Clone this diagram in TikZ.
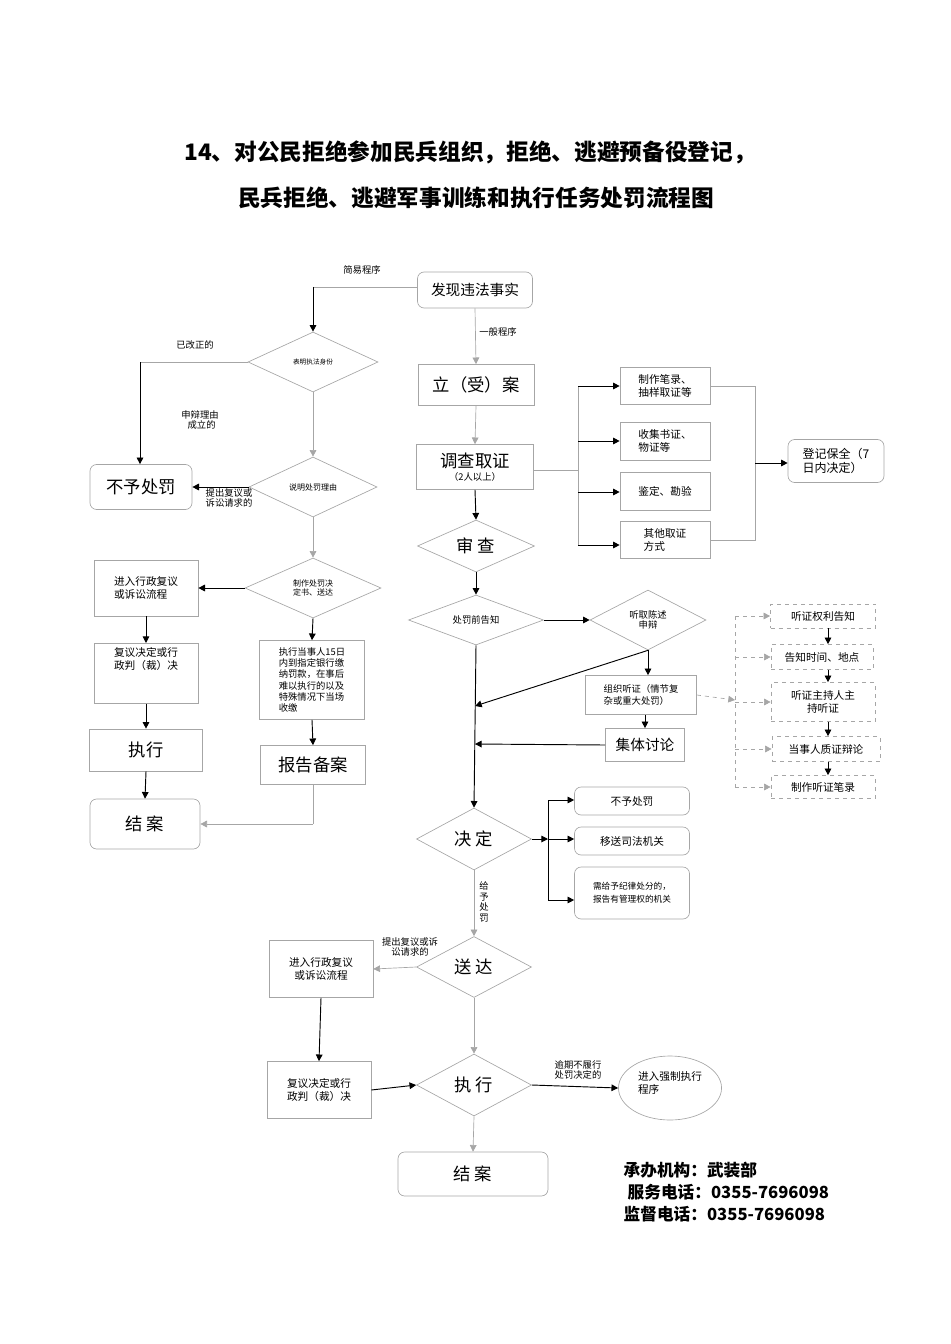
\documentclass[tikz,border=0pt]{standalone}
\usepackage{fontspec}
\setmainfont{Noto Sans CJK SC}
\usetikzlibrary{shapes.geometric,arrows.meta}
\begin{document}
\begin{tikzpicture}[x=0.75pt,y=-0.75pt,
  bx/.style={draw=gray!70,line width=0.5pt,inner sep=1pt,align=center},
  rbx/.style={bx,rounded corners=5pt},
  dbx/.style={bx,dashed},
  dia/.style={draw=gray!70,line width=0.5pt,diamond,aspect=2,inner sep=0pt,align=center},
  ar/.style={-{Triangle[length=5pt,width=5pt]},line width=0.7pt},
  gl/.style={draw=gray!70,line width=0.5pt},
  gar/.style={gl,-{Triangle[length=5pt,width=5pt]}},
  lb/.style={font=\fontsize{7}{8}\selectfont,align=left},
  sm/.style={font=\fontsize{8}{9.5}\selectfont},
  big/.style={font=\fontsize{13}{15}\selectfont},
  mid/.style={font=\fontsize{11}{13}\selectfont}]
\useasboundingbox (0,0) rectangle (950,1344);
\node[font=\fontsize{17}{20}\bfseries\selectfont] (t1) at (470,152) {14、对公民拒绝参加民兵组织，拒绝、逃避预备役登记，};
\node[font=\fontsize{17}{20}\bfseries\selectfont] (t2) at (476,198) {民兵拒绝、逃避军事训练和执行任务处罚流程图};
% left column
\node[rbx,mid,minimum width={115*0.75pt},minimum height={36*0.75pt}] (fx) at (475,290) {发现违法事实};
\node[dia,minimum width={130*0.75pt},minimum height={60*0.75pt},font=\fontsize{5}{6}\selectfont] (d1) at (313,362) {表明执法身份};
\node[dia,minimum width={128*0.75pt},minimum height={60*0.75pt},font=\fontsize{6}{7}\selectfont] (d2) at (313,487) {说明处罚理由};
\node[dia,minimum width={136*0.75pt},minimum height={60*0.75pt},font=\fontsize{6}{7}\selectfont] (d3) at (313,588) {制作处罚决\\定书、送达};
\node[rbx,big,minimum width={102*0.75pt},minimum height={45*0.75pt}] (bz) at (141,487) {不予处罚};
\node[bx,sm,minimum width={104*0.75pt},minimum height={56*0.75pt},align=left] (fy1) at (146,588) {进入行政复议\\或诉讼流程};
\node[bx,sm,minimum width={104*0.75pt},minimum height={60*0.75pt},align=left,anchor=north,text depth=22pt] (fy2) at (146,643) {复议决定或行\\政判（裁）决};
\node[bx,big,minimum width={113*0.75pt},minimum height={42*0.75pt}] (zx1) at (146,750) {执行};
\node[rbx,big,minimum width={110*0.75pt},minimum height={50*0.75pt}] (ja1) at (145,824) {结 案};
\node[bx,font=\fontsize{7}{8.5}\selectfont,minimum width={105*0.75pt},minimum height={79*0.75pt},align=left] (zxd) at (312,680) {执行当事人15日\\内到指定银行缴\\纳罚款，在事后\\难以执行的以及\\特殊情况下当场\\收缴};
\node[bx,big,minimum width={105*0.75pt},minimum height={39*0.75pt}] (bg) at (313,765) {报告备案};
\coordinate (c1) at (313,287);
\coordinate (c2) at (140,362);
\coordinate (c3) at (313,824);
\draw[gl] (fx.west|-c1) -- (c1);
\draw[ar] (c1) -- (d1.north);
\draw[gl] (d1.west) -- (c2);
\draw[ar,line width=0.5pt] (c2) -- (c2|-bz.north);
\node[lb] (l1) at (362,270) {简易程序};
\node[lb] (l2) at (195,345) {已改正的};
\node[lb] (l3) at (200,420) {申辩理由\\\ \ \ 成立的};
\node[lb,inner sep=0pt] (l4) at (229,498) {提出复议或\\诉讼请求的};
\draw[gar] (d1.south) -- (d2.north);
\draw[ar] (d2.west) -- (bz.east);
\draw[gar] (d2.south) -- (d3.north);
\draw[ar] (d3.west) -- (fy1.east);
\draw[ar] (fy1.south) -- (fy2.north);
\draw[ar] (fy2.south) -- (zx1.north);
\draw[ar] (zx1.south) -- (ja1.north);
\draw[ar] (d3.south) -- (zxd.north);
\draw[ar] (zxd.south) -- (bg.north);
\draw[gl] (bg.south) -- (c3);
\draw[ar,draw=gray!70,line width=0.5pt] (c3) -- (ja1.east);
% centre column
\node[bx,big,minimum width={116*0.75pt},minimum height={41*0.75pt}] (la) at (476,385) {立（受）案};
\node[bx,minimum width={117*0.75pt},minimum height={45*0.75pt}] (dc) at (475,467) {{\fontsize{13}{14}\selectfont 调查取证}\\[-2pt]{\fontsize{7}{8}\selectfont（2人以上）}};
\node[dia,big,minimum width={117*0.75pt},minimum height={52*0.75pt}] (sc) at (476,546) {审 查};
\node[dia,font=\fontsize{7}{8}\selectfont,minimum width={135*0.75pt},minimum height={50*0.75pt}] (gz) at (476,620) {处罚前告知};
\node[dia,font=\fontsize{7}{8}\selectfont,minimum width={116*0.75pt},minimum height={60*0.75pt}] (tq) at (648,620) {听取陈述\\申辩};
\node[bx,font=\fontsize{7}{8.5}\selectfont,minimum width={111*0.75pt},minimum height={39*0.75pt},align=left] (zz) at (641,695) {组织听证（情节复\\杂或重大处罚）};
\node[bx,mid,minimum width={79*0.75pt},minimum height={33*0.75pt}] (jt) at (645,745) {集体讨论};
\node[dia,big,minimum width={115*0.75pt},minimum height={62*0.75pt}] (jd) at (474,839) {决 定};
\node[dia,big,minimum width={115*0.75pt},minimum height={61*0.75pt}] (sd) at (474,967) {送 达};
\node[dia,big,minimum width={115*0.75pt},minimum height={62*0.75pt}] (zx2) at (474,1085) {执 行};
\node[rbx,big,minimum width={150*0.75pt},minimum height={44*0.75pt}] (ja2) at (473,1174) {结 案};
\node[lb] (l5) at (498,332) {一般程序};
\draw[gar] (fx.south) -- (la.north);
\draw[gar] (la.south) -- (dc.north);
\draw[ar] (dc.south) -- (sc.north);
\draw[ar] (sc.south) -- (gz.north);
\draw[ar] (gz.east) -- (tq.west);
\coordinate (m1) at (475,706);
\coordinate (m2) at (475,744);
\draw[ar] (tq.south) -- (m1);
\draw[ar] (tq.south) -- (zz.north-|tq.south);
\draw[ar] (zz.south-|jt.north) -- (jt.north);
\draw[ar] (jt.west) -- (m2);
\draw[ar] (gz.south) -- (jd.north);
% evidence branch
\node[bx,sm,minimum width={90*0.75pt},minimum height={37*0.75pt},align=left] (e1) at (665,386) {制作笔录、\\抽样取证等};
\node[bx,sm,minimum width={90*0.75pt},minimum height={38*0.75pt},align=left] (e2) at (665,441) {收集书证、\\物证等};
\node[bx,sm,minimum width={90*0.75pt},minimum height={38*0.75pt},align=left] (e3) at (665,491) {鉴定、勘验};
\node[bx,sm,minimum width={90*0.75pt},minimum height={37*0.75pt},align=left] (e4) at (665,540) {其他取证\\方式};
\node[rbx,font=\fontsize{9}{11}\selectfont,minimum width={96*0.75pt},minimum height={43*0.75pt},align=left] (dj) at (836,461) {登记保全（7\\日内决定）};
\coordinate (b0) at (578,470);
\draw[gl] (dc.east|-b0) -- (b0);
\draw[gl] (578,386) -- (578,545);
\foreach \e/\y in {e1/386,e2/441,e3/492,e4/545}{\draw[ar] (578,\y) -- (\e.west|-0,\y);}
\draw[gl] (e1.east) -- (755,386) -- (755,540) -- (e4.east|-0,540);
\draw[ar] (755,463) -- (dj.west|-0,463);
% hearing
\node[dbx,sm,minimum width={105*0.75pt},minimum height={24*0.75pt}] (h1) at (823,616) {听证权利告知};
\node[dbx,sm,minimum width={102*0.75pt},minimum height={25*0.75pt}] (h2) at (822,657) {告知时间、地点};
\node[dbx,sm,minimum width={104*0.75pt},minimum height={39*0.75pt}] (h3) at (823,702) {听证主持人主\\持听证};
\node[dbx,sm,minimum width={108*0.75pt},minimum height={25*0.75pt}] (h4) at (826,749) {当事人质证辩论};
\node[dbx,sm,minimum width={104*0.75pt},minimum height={23*0.75pt}] (h5) at (823,787) {制作听证笔录};
\coordinate (hx) at (735,700);
\draw[gl,dashed,-{Triangle[length=5pt,width=5pt]},draw=gray!70] (zz.east) -- (hx);
\draw[gl,dashed] (735,616) -- (735,787);
\foreach \h in {h1,h2,h3,h4,h5}{\draw[gl,dashed,-{Triangle[length=5pt,width=5pt]}] (735,0|-\h.west) -- (\h.west);}
\draw[ar] (h1.south-|828,0) -- (828,0|-h2.north);
\draw[ar] (h2.south-|828,0) -- (828,0|-h3.north);
\draw[ar] (h3.south-|828,0) -- (828,0|-h4.north);
\draw[ar] (h4.south-|828,0) -- (828,0|-h5.north);
% decision
\node[rbx,sm,minimum width={115*0.75pt},minimum height={28*0.75pt}] (r1) at (632,801) {不予处罚};
\node[rbx,sm,minimum width={115*0.75pt},minimum height={28*0.75pt}] (r2) at (632,841) {移送司法机关};
\node[rbx,font=\fontsize{6.5}{10}\selectfont,minimum width={115*0.75pt},minimum height={52*0.75pt},align=left] (r3) at (632,893) {需给予纪律处分的，\\报告有管理权的机关};
\draw[ar] (jd.east) -- (548,0|-jd.east);
\draw[line width=0.5pt] (548,800) -- (548,900);
\draw[ar] (548,800) -- (r1.west|-0,800);
\draw[ar] (548,839) -- (r2.west|-0,839);
\draw[ar] (548,900) -- (r3.west|-0,900);
\node[lb,align=center] (l6) at (484,902) {给\\予\\处\\罚};
\draw[gar] (jd.south) -- (sd.north);
\node[bx,sm,minimum width={104*0.75pt},minimum height={57*0.75pt}] (fy3) at (321,969) {进入行政复议\\或诉讼流程};
\node[bx,sm,minimum width={104*0.75pt},minimum height={57*0.75pt}] (fy4) at (319,1090) {复议决定或行\\政判（裁）决};
\node[lb,align=center] (l7) at (410,947) {提出复议或诉\\讼请求的};
\draw[gar] (sd.west) -- (fy3.east);
\draw[ar] (fy3.south) -- (fy4.north);
\draw[ar] (fy4.east) -- (zx2.west);
\draw[gar] (sd.south) -- (zx2.north);
\draw[gar] (zx2.south) -- (ja2.north);
\node[draw=gray!70,line width=0.5pt,ellipse,minimum width={96*0.75pt},minimum height={64*0.75pt},font=\fontsize{8}{9.5}\selectfont,align=left,text depth=8pt] (qz) at (670,1088) {进入强制执行\\程序};
\node[lb,align=center] (l8) at (578,1070) {逾期不履行\\处罚决定的};
\draw[ar] (zx2.east) -- (qz.west);
% footer
\node[anchor=west,font=\fontsize{12.5}{14}\bfseries\selectfont] (f1) at (619,1170) {承办机构：武装部};
\node[anchor=west,font=\fontsize{12.5}{14}\bfseries\selectfont] (f2) at (623,1192) {服务电话：0355-7696098};
\node[anchor=west,font=\fontsize{12.5}{14}\bfseries\selectfont] (f3) at (619,1214) {监督电话：0355-7696098};
\end{tikzpicture}
\end{document}
